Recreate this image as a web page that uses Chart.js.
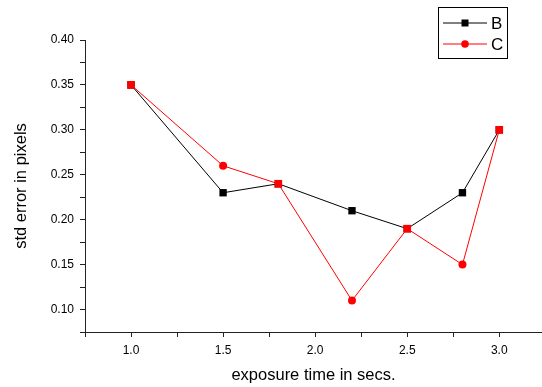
<!DOCTYPE html>
<html>
<head>
<meta charset="utf-8">
<script src="https://cdn.jsdelivr.net/npm/chart.js@4"></script>
<style>
    html, body { margin: 0; padding: 0; background: #ffffff; overflow: hidden; }
    #chartBox { position: relative; width: 542px; height: 387px; }
</style>
</head>
<body>
<div id="chartBox"><canvas id="stdErrChart"></canvas></div>
<script>
const exposureTimes = [1.0, 1.5, 1.8, 2.2, 2.5, 2.8, 3.0];
const seriesB = [0.35, 0.23, 0.24, 0.21, 0.19, 0.23, 0.30];
const seriesC = [0.35, 0.26, 0.24, 0.11, 0.19, 0.15, 0.30];

const xTicks = [0.75, 1.0, 1.25, 1.5, 1.75, 2.0, 2.25, 2.5, 2.75, 3.0];
const xTickLabels = ["", "1.0", "", "1.5", "", "2.0", "", "2.5", "", "3.0"];
const yTicks = [0.075, 0.10, 0.125, 0.15, 0.175, 0.20, 0.225, 0.25, 0.275, 0.30, 0.325, 0.35, 0.375, 0.40];
const yTickLabels = ["", "0.10", "", "0.15", "", "0.20", "", "0.25", "", "0.30", "", "0.35", "", "0.40"];

const fontFamily = "'Liberation Sans', Arial, Helvetica, sans-serif";

function toPoints(xs, ys) {
    return xs.map((x, i) => ({ x: x, y: ys[i] }));
}

// Origin-style boxed legend with line + marker samples
const boxLegend = {
    id: "boxLegend",
    afterDraw(chart) {
        const ctx = chart.ctx;
        const sets = chart.data.datasets;
        ctx.save();
        ctx.fillStyle = "#ffffff";
        ctx.strokeStyle = "#000000";
        ctx.lineWidth = 1;
        ctx.fillRect(438.5, 7.5, 69, 51);
        ctx.strokeRect(438.5, 7.5, 69, 51);
        sets.forEach((ds, i) => {
            const y = 23 + i * 21;
            ctx.strokeStyle = ds.borderColor;
            ctx.lineWidth = 1;
            ctx.beginPath();
            ctx.moveTo(443, y);
            ctx.lineTo(487, y);
            ctx.stroke();
            ctx.fillStyle = ds.backgroundColor;
            if (ds.legendStyle === "rect") {
                ctx.fillRect(461.5, y - 3.5, 7, 7);
            } else {
                ctx.beginPath();
                ctx.arc(465, y, 3.8, 0, Math.PI * 2);
                ctx.fill();
            }
            ctx.fillStyle = "#000000";
            ctx.font = "17px " + fontFamily;
            ctx.textBaseline = "middle";
            ctx.fillText(ds.label, 491, y + 1);
        });
        ctx.restore();
    }
};

const axisStyle = {
    grid: { drawOnChartArea: false, drawTicks: true, tickLength: 5, tickColor: "#222222", tickWidth: 1 },
    border: { display: true, color: "#222222", width: 1 }
};

new Chart(document.getElementById("stdErrChart"), {
    type: "line",
    data: {
        datasets: [{
            label: "B",
            data: toPoints(exposureTimes, seriesB),
            borderColor: "#000000",
            backgroundColor: "#000000",
            borderWidth: 1,
            pointStyle: "rect",
            pointRadius: 5.2,
            pointBorderWidth: 0,
            legendStyle: "rect",
            order: 1
        }, {
            label: "C",
            data: toPoints(exposureTimes, seriesC),
            borderColor: "#ff0000",
            backgroundColor: "#ff0000",
            borderWidth: 1,
            // where C sits on top of B the marker shows as a red square
            pointStyle: (ctx) => seriesC[ctx.dataIndex] === seriesB[ctx.dataIndex] ? "rect" : "circle",
            pointRadius: (ctx) => seriesC[ctx.dataIndex] === seriesB[ctx.dataIndex] ? 5.4 : 4,
            pointBorderWidth: 0,
            legendStyle: "circle",
            order: 0
        }]
    },
    options: {
        responsive: true,
        maintainAspectRatio: false,
        animation: false,
        layout: { autoPadding: false, padding: { top: 40, right: 0, left: 0, bottom: 0 } },
        plugins: {
            legend: { display: false },
            tooltip: { enabled: false }
        },
        scales: {
            x: {
                type: "linear",
                min: 0.75,
                max: 3.232,
                ...axisStyle,
                afterBuildTicks: (scale) => { scale.ticks = xTicks.map(v => ({ value: v })); },
                afterFit: (scale) => {
                    scale.height = 55;
                    scale.paddingLeft = 0;
                    scale.paddingRight = 0;
                },
                ticks: {
                    color: "#000000",
                    font: { family: fontFamily, size: 12 },
                    padding: 6,
                    maxRotation: 0,
                    autoSkip: false,
                    callback: (value, index) => xTickLabels[index]
                },
                title: {
                    display: true,
                    text: "exposure time in secs.",
                    color: "#000000",
                    font: { family: fontFamily, size: 16.5 },
                    padding: { top: 8, bottom: 2 }
                }
            },
            y: {
                type: "linear",
                min: 0.075,
                max: 0.40,
                ...axisStyle,
                afterBuildTicks: (scale) => { scale.ticks = yTicks.map(v => ({ value: v })); },
                afterFit: (scale) => {
                    scale.width = 85;
                    scale.paddingTop = 0;
                    scale.paddingBottom = 0;
                },
                ticks: {
                    color: "#000000",
                    font: { family: fontFamily, size: 12 },
                    padding: 6,
                    autoSkip: false,
                    callback: (value, index) => yTickLabels[index]
                },
                title: {
                    display: true,
                    text: "std error in pixels",
                    color: "#000000",
                    font: { family: fontFamily, size: 16.5 },
                    padding: { top: 12, bottom: 0 }
                }
            }
        }
    },
    plugins: [boxLegend]
});
</script>
</body>
</html>
